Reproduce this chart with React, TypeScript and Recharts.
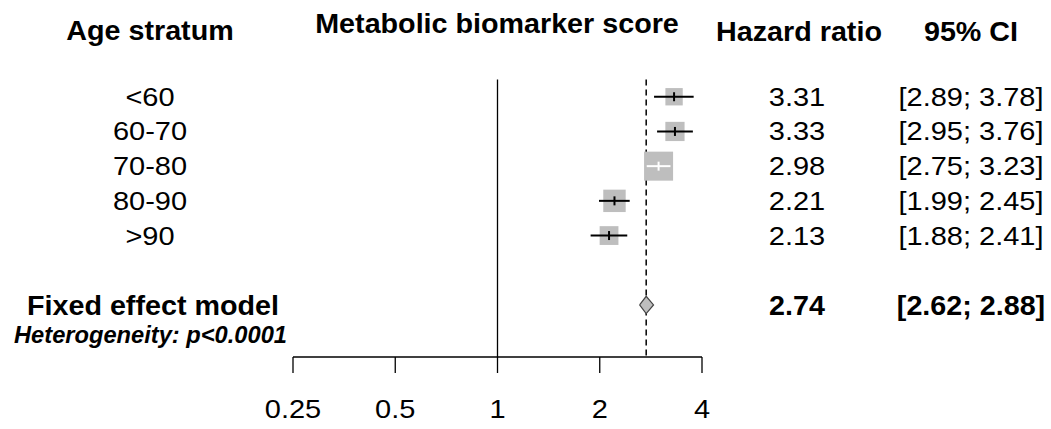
import React from 'react';
import { ScatterChart, Scatter, XAxis, YAxis } from 'recharts';

// forest plot data
const strata = ['<60', '60-70', '70-80', '80-90', '>90'];
const hazardRatio = [3.31, 3.33, 2.98, 2.21, 2.13];
const ciLower = [2.89, 2.95, 2.75, 1.99, 1.88];
const ciUpper = [3.78, 3.76, 3.23, 2.45, 2.41];
const weights = [12.7, 15.6, 35.5, 21.2, 14.9];
const pooledLabel = 'Fixed effect model';
const pooledHR = 2.74;
const pooledLower = 2.62;
const pooledUpper = 2.88;
const heterogeneityLabel = 'Heterogeneity: p<0.0001';
const xTicks = [0.25, 0.5, 1, 2, 4];
const headers = ['Age stratum', 'Metabolic biomarker score', 'Hazard ratio', '95% CI'];

// layout (row units on the y axis, pixels for text columns)
const FONT = '"Liberation Sans", Arial, Helvetica, sans-serif';
const POOLED_ROW = 7;
const HET_ROW = 7.87;
const HEADER_ROWS = [-0.94, -1.13, -0.89, -0.89];
const HEADER_X = [150, 497, 799, 971];
const LABEL_X = 150;
const HR_X = 797;
const CI_X = 971;
const MAX_SQ = 29;
const DIAMOND_H = 0.25;
const WHITE_CI = new Set(['70-80']);
// the reference text is a bit wider than it is tall
const BODY = { size: 25, sx: 1.16 };
const BOLD = { size: 28, sx: 1.025 };

const fmt = (v: number) => v.toFixed(2);
const fmtCI = (lo: number, hi: number) => `[${fmt(lo)}; ${fmt(hi)}]`;
const maxW = Math.max(...weights);

const rows = strata.map((s, i) => ({
  label: s,
  x: hazardRatio[i],
  y: i + 1,
  lo: ciLower[i],
  hi: ciUpper[i],
  w: weights[i],
}));

const Empty = () => <g />;

type TextOpts = { anchor?: string; size?: number; sx?: number; weight?: string; italic?: boolean };

const textShape =
  (x: number, opts: TextOpts = {}) =>
  (p: any) => (
    <text
      transform={`translate(${x},${p.cy}) scale(${opts.sx ?? BODY.sx},1)`}
      x={0}
      y={0}
      dy="0.36em"
      textAnchor={opts.anchor || 'middle'}
      fontSize={opts.size || BODY.size}
      fontWeight={opts.weight || 'normal'}
      fontStyle={opts.italic ? 'italic' : 'normal'}
      fontFamily={FONT}
      fill="#000"
    >
      {p.payload.label}
    </text>
  );

const SquareShape = (p: any) => {
  const s = MAX_SQ * Math.sqrt(p.payload.w / maxW);
  return <rect x={p.cx - s / 2} y={p.cy - s / 2} width={s} height={s} fill="#bebebe" />;
};

const EstimateTick = (p: any) => (
  <line
    x1={p.cx}
    x2={p.cx}
    y1={p.cy - 4.5}
    y2={p.cy + 4.5}
    stroke={WHITE_CI.has(p.payload.label) ? '#fff' : '#000'}
    strokeWidth={2}
  />
);

const AxisTick = (p: any) => (
  <text
    transform={`translate(${p.x},${p.y}) scale(${BODY.sx},1)`}
    x={0}
    y={0}
    dy="0.71em"
    textAnchor="middle"
    fontSize={BODY.size}
    fontFamily={FONT}
    fill="#000"
  >
    {p.payload.value}
  </text>
);

const bold = (extra: TextOpts = {}) => ({ size: BOLD.size, sx: BOLD.sx, weight: 'bold', ...extra });

export default function App() {
  return (
    <div style={{ position: 'absolute', left: 0, top: 0, width: 1051, height: 429, background: '#fff' }}>
      <ScatterChart width={1051} height={429} margin={{ top: 10, right: 349, bottom: 0, left: 293 }}>
        <XAxis
          type="number"
          dataKey="x"
          scale="log"
          domain={[0.25, 4]}
          ticks={xTicks}
          height={72}
          tickSize={16}
          tickMargin={27}
          axisLine={{ stroke: '#000', strokeWidth: 1.3 }}
          tickLine={{ stroke: '#000', strokeWidth: 1.3 }}
          tick={<AxisTick />}
        />
        <YAxis type="number" dataKey="y" domain={[-1.5, 8.5]} reversed hide />

        {/* null line and pooled estimate line */}
        <Scatter
          data={[{ x: 1, y: 0.5 }, { x: 1, y: 8.5 }]}
          line={{ stroke: '#000', strokeWidth: 1.3 }}
          lineType="joint"
          shape={<Empty />}
          isAnimationActive={false}
        />
        <Scatter
          data={[{ x: pooledHR, y: 0.5 }, { x: pooledHR, y: 8.5 }]}
          line={{ stroke: '#000', strokeWidth: 1.5, strokeDasharray: '6 4' }}
          lineType="joint"
          shape={<Empty />}
          isAnimationActive={false}
        />

        {/* study squares */}
        <Scatter data={rows} shape={SquareShape} isAnimationActive={false} />

        {/* confidence intervals */}
        {rows.map((r) => (
          <Scatter
            key={r.label}
            data={[{ x: r.lo, y: r.y }, { x: r.hi, y: r.y }]}
            line={{ stroke: WHITE_CI.has(r.label) ? '#fff' : '#000', strokeWidth: 2 }}
            lineType="joint"
            shape={<Empty />}
            isAnimationActive={false}
          />
        ))}
        <Scatter data={rows} shape={EstimateTick} isAnimationActive={false} />

        {/* pooled diamond */}
        <Scatter
          data={[
            { x: pooledLower, y: POOLED_ROW },
            { x: pooledHR, y: POOLED_ROW - DIAMOND_H },
            { x: pooledUpper, y: POOLED_ROW },
            { x: pooledHR, y: POOLED_ROW + DIAMOND_H },
            { x: pooledLower, y: POOLED_ROW },
          ]}
          line={{ stroke: '#444', strokeWidth: 1.2, fill: '#bebebe' }}
          lineType="joint"
          shape={<Empty />}
          isAnimationActive={false}
        />

        {/* text columns */}
        {headers.map((h, i) => (
          <Scatter
            key={h}
            data={[{ x: 1, y: HEADER_ROWS[i], label: h }]}
            shape={textShape(HEADER_X[i], bold())}
            isAnimationActive={false}
          />
        ))}
        <Scatter data={rows} shape={textShape(LABEL_X)} isAnimationActive={false} />
        <Scatter
          data={rows.map((r) => ({ x: 1, y: r.y, label: fmt(r.x) }))}
          shape={textShape(HR_X)}
          isAnimationActive={false}
        />
        <Scatter
          data={rows.map((r) => ({ x: 1, y: r.y, label: fmtCI(r.lo, r.hi) }))}
          shape={textShape(CI_X)}
          isAnimationActive={false}
        />
        <Scatter
          data={[{ x: 1, y: POOLED_ROW, label: pooledLabel }]}
          shape={textShape(27, bold({ anchor: 'start' }))}
          isAnimationActive={false}
        />
        <Scatter
          data={[{ x: 1, y: POOLED_ROW, label: fmt(pooledHR) }]}
          shape={textShape(HR_X, bold())}
          isAnimationActive={false}
        />
        <Scatter
          data={[{ x: 1, y: POOLED_ROW, label: fmtCI(pooledLower, pooledUpper) }]}
          shape={textShape(CI_X, bold())}
          isAnimationActive={false}
        />
        <Scatter
          data={[{ x: 1, y: HET_ROW, label: heterogeneityLabel }]}
          shape={textShape(14, { anchor: 'start', size: 23, sx: 1.03, weight: 'bold', italic: true })}
          isAnimationActive={false}
        />
      </ScatterChart>
    </div>
  );
}
